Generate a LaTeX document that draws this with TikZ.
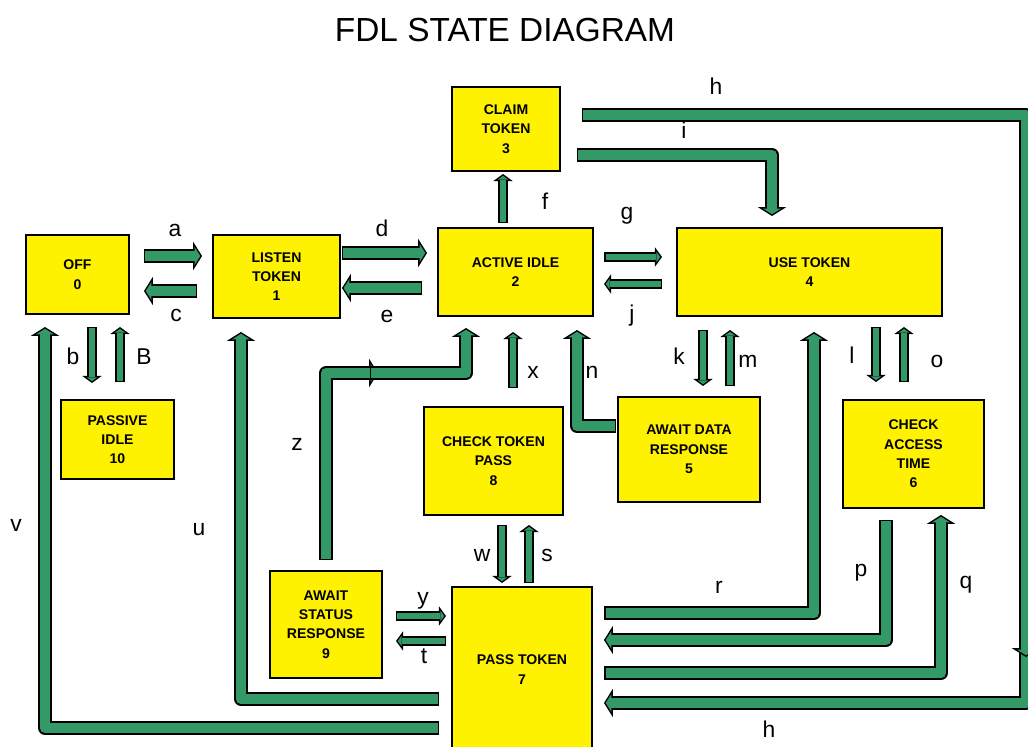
\documentclass[tikz,border=0pt]{standalone}
\usepackage{fontspec}
\setmainfont{Liberation Sans}
\usetikzlibrary{arrows.meta}
\definecolor{verdetubo}{RGB}{51,153,102}

\begin{document}
\begin{tikzpicture}[
	x=0.02cm, y=-0.02cm,
	stato/.style={draw=black, fill=yellow, line width=0.85pt,
		inner sep=0pt, align=center,
		font=\fontsize{8}{11}\selectfont\bfseries},
	tubo/.style={draw=verdetubo, line width=6.2pt, line join=round,
		shorten <=0.85pt, shorten >=1pt,
		-{Triangle[length=3.15pt, width=10.1pt, line width=0pt]},
		preaction={draw=black, line width=7.9pt, line join=round,
			shorten <=0pt, shorten >=0pt,
			-{Triangle[length=5pt, width=16pt, line width=0pt]}}},
	tubetto/.style={draw=verdetubo, line width=3.9pt, line join=round,
		shorten <=0.85pt, shorten >=1.05pt,
		-{Triangle[length=2.1pt, width=5.8pt, line width=0pt]},
		preaction={draw=black, line width=5.6pt, line join=round,
			shorten <=0pt, shorten >=0pt,
			-{Triangle[length=4pt, width=11pt, line width=0pt]}}},
	lettera/.style={font=\fontsize{13}{13}\selectfont, inner sep=0pt},
	]
	\useasboundingbox (0,0) rectangle (1028,747);
	
	\node[font=\fontsize{19}{19}\selectfont, inner sep=0pt] (titolo)
	at (505,30) {FDL STATE DIAGRAM};
	
	% stati
	\node[stato, minimum width=2.06cm, minimum height=1.58cm] (off)
	at (77.5,274.5) {OFF\\0};
	\node[stato, minimum width=2.54cm, minimum height=1.66cm] (listen)
	at (276.5,276.5) {LISTEN\\TOKEN\\1};
	\node[stato, minimum width=3.10cm, minimum height=1.76cm] (active)
	at (515.5,272) {ACTIVE IDLE\\2};
	\node[stato, minimum width=2.16cm, minimum height=1.68cm] (claim)
	at (506,129) {CLAIM\\TOKEN\\3};
	\node[stato, minimum width=5.30cm, minimum height=1.76cm] (use)
	at (809.5,272) {USE TOKEN\\4};
	\node[stato, minimum width=2.84cm, minimum height=2.10cm] (awaitdata)
	at (689,449.5) {AWAIT DATA\\RESPONSE\\5};
	\node[stato, minimum width=2.82cm, minimum height=2.16cm] (access)
	at (913.5,454) {CHECK\\ACCESS\\TIME\\6};
	\node[stato, minimum width=2.80cm, minimum height=3.30cm] (pass)
	at (522,669.5) {PASS TOKEN\\7};
	\node[stato, minimum width=2.78cm, minimum height=2.16cm] (checkpass)
	at (493.5,461) {CHECK TOKEN\\PASS\\8};
	\node[stato, minimum width=2.24cm, minimum height=2.14cm] (awaitstatus)
	at (326,624.5) {AWAIT\\STATUS\\RESPONSE\\9};
	\node[stato, minimum width=2.26cm, minimum height=1.58cm] (passive)
	at (117.5,439.5) {PASSIVE\\IDLE\\10};
	
	% estremi dei tubi
	\coordinate (a0) at (144,256); \coordinate (a1) at (202,256);
	\coordinate (c0) at (197,291); \coordinate (c1) at (144,291);
	\coordinate (d0) at (342,253); \coordinate (d1) at (427,253);
	\coordinate (e0) at (422,288); \coordinate (e1) at (342,288);
	\coordinate (b0) at (92,327);  \coordinate (b1) at (92,383);
	\coordinate (B0) at (120,382); \coordinate (B1) at (120,327);
	\coordinate (f0) at (503,223); \coordinate (f1) at (503,174);
	\coordinate (g0) at (604,257); \coordinate (g1) at (662,257);
	\coordinate (j0) at (662,284); \coordinate (j1) at (604,284);
	\coordinate (x0) at (513,388); \coordinate (x1) at (513,332);
	\coordinate (k0) at (703,330); \coordinate (k1) at (703,386);
	\coordinate (m0) at (730,386); \coordinate (m1) at (730,330);
	\coordinate (l0) at (876,327); \coordinate (l1) at (876,382);
	\coordinate (o0) at (904,382); \coordinate (o1) at (904,327);
	\coordinate (w0) at (502,525); \coordinate (w1) at (502,583);
	\coordinate (s0) at (529,583); \coordinate (s1) at (529,525);
	\coordinate (y0) at (396,616); \coordinate (y1) at (446,616);
	\coordinate (t0) at (446,641); \coordinate (t1) at (396,641);
	
	\draw[tubo] (a0) -- (a1);
	\draw[tubo] (c0) -- (c1);
	\draw[tubo] (d0) -- (d1);
	\draw[tubo] (e0) -- (e1);
	\draw[tubetto] (b0) -- (b1);
	\draw[tubetto] (B0) -- (B1);
	\draw[tubetto] (f0) -- (f1);
	\draw[tubetto] (g0) -- (g1);
	\draw[tubetto] (j0) -- (j1);
	\draw[tubetto] (x0) -- (x1);
	\draw[tubetto] (k0) -- (k1);
	\draw[tubetto] (m0) -- (m1);
	\draw[tubetto] (l0) -- (l1);
	\draw[tubetto] (o0) -- (o1);
	\draw[tubetto] (w0) -- (w1);
	\draw[tubetto] (s0) -- (s1);
	\draw[tubetto] (y0) -- (y1);
	\draw[tubetto] (t0) -- (t1);
	
	% tubi con gomiti
	\coordinate (v0) at (439,728); \coordinate (v1) at (45,327);
	\draw[tubo] (v0) -| (v1);
	\coordinate (u0) at (439,699); \coordinate (u1) at (241,332);
	\draw[tubo] (u0) -| (u1);
	\coordinate (z0) at (326,560); \coordinate (zm) at (378,373);
	\coordinate (zn) at (370,373); \coordinate (z1) at (466,328);
	\draw[tubo] (z0) |- (zm);
	\draw[tubo] (zn) -| (z1);
	\coordinate (n0) at (616,426); \coordinate (n1) at (577,330);
	\draw[tubo] (n0) -| (n1);
	\coordinate (i0) at (577,155); \coordinate (i1) at (772,216);
	\draw[tubo] (i0) -| (i1);
	\coordinate (r0) at (604,613); \coordinate (r1) at (814,332);
	\draw[tubo] (r0) -| (r1);
	\coordinate (p0) at (886,520); \coordinate (p1) at (604,640);
	\draw[tubo] (p0) |- (p1);
	\coordinate (q0) at (604,673); \coordinate (q1) at (941,515);
	\draw[tubo] (q0) -| (q1);
	\coordinate (h0) at (582,115); \coordinate (hm) at (1026,657);
	\coordinate (hn) at (1026,645); \coordinate (h1) at (604,703);
	\draw[tubo] (hn) |- (h1);
	\draw[tubo] (h0) -| (hm);
	
	% etichette
	\node[lettera] (la) at (175,230) {a};
	\node[lettera] (lc) at (176,315) {c};
	\node[lettera] (ld) at (382,228) {d};
	\node[lettera] (le) at (387,316) {e};
	\node[lettera] (lb) at (73,356) {b};
	\node[lettera] (lB) at (144,357) {B};
	\node[lettera] (lf) at (545,201) {f};
	\node[lettera] (lg) at (627,216) {g};
	\node[lettera] (lh) at (716,86) {h};
	\node[lettera] (li) at (684,130) {i};
	\node[lettera] (lj) at (632,316) {j};
	\node[lettera] (lk) at (679,356) {k};
	\node[lettera] (lm) at (748,361) {m};
	\node[lettera] (ll) at (852,355) {l};
	\node[lettera] (lo) at (937,361) {o};
	\node[lettera] (lx) at (533,372) {x};
	\node[lettera] (ln) at (592,372) {n};
	\node[lettera] (lz) at (297,444) {z};
	\node[lettera] (lu) at (199,530) {u};
	\node[lettera] (lv) at (16,525) {v};
	\node[lettera] (ly) at (423,601) {y};
	\node[lettera] (lt) at (424,656) {t};
	\node[lettera] (lw) at (482,555) {w};
	\node[lettera] (ls) at (547,555) {s};
	\node[lettera] (lr) at (719,587) {r};
	\node[lettera] (lp) at (861,573) {p};
	\node[lettera] (lq) at (966,585) {q};
	\node[lettera] (lh2) at (769,729) {h};
\end{tikzpicture}
\end{document}
